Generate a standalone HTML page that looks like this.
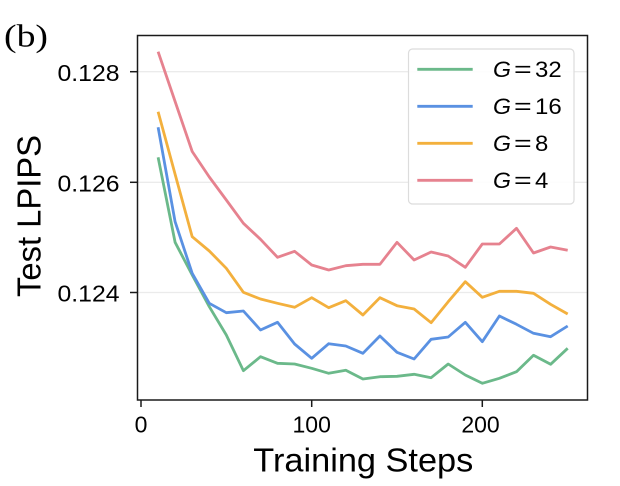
<!DOCTYPE html>
<html>
<head>
<meta charset="utf-8">
<style>
html,body{margin:0;padding:0;background:#fff;}
svg{display:block;}
text{font-family:"Liberation Sans",Arial,sans-serif;fill:#000;}
</style>
</head>
<body>
<svg width="620" height="486" viewBox="0 0 620 486" xmlns="http://www.w3.org/2000/svg">
<rect x="0" y="0" width="620" height="486" fill="#fff"/>
<!-- grid -->
<g stroke="#ebebeb" stroke-width="1.3">
<line x1="137.5" y1="71.7" x2="587.5" y2="71.7"/>
<line x1="137.5" y1="182.3" x2="587.5" y2="182.3"/>
<line x1="137.5" y1="292.5" x2="587.5" y2="292.5"/>
</g>
<!-- series -->
<g fill="none" stroke-width="2.8" stroke-linejoin="round" stroke-linecap="butt">
<polyline stroke="#6bb98a" points="158.1,157.3 175.1,242.3 192.2,275 209.3,306.7 226.3,335 243.4,370.7 260.5,356.7 277.5,363.3 294.6,364 311.7,368.3 328.7,373.3 345.8,370.3 362.9,379 379.9,376.7 397,376.3 414.1,374.3 431.1,377.7 448.2,364 465.3,375 482.3,383.3 499.4,378.3 516.5,371.7 533.5,355.3 550.6,364.3 567.7,348.3"/>
<polyline stroke="#5a91e2" points="158.1,127.3 175.1,221.7 192.2,273.3 209.3,303.3 226.3,312.7 243.4,311 260.5,330 277.5,322.3 294.6,344 311.7,358.3 328.7,343.7 345.8,346 362.9,353.3 379.9,336 397,352.3 414.1,359 431.1,339.3 448.2,337 465.3,322.3 482.3,341.7 499.4,316 516.5,324.3 533.5,333.3 550.6,336.7 567.7,326"/>
<polyline stroke="#f3b03d" points="158.1,111.7 175.1,174.2 192.2,236.7 209.3,251 226.3,268.3 243.4,292.3 260.5,299 277.5,303.3 294.6,307.3 311.7,297.7 328.7,307.7 345.8,300.7 362.9,315 379.9,297.7 397,305.7 414.1,309 431.1,322.7 448.2,301.7 465.3,281.7 482.3,297.3 499.4,291.3 516.5,291.3 533.5,293.3 550.6,304.3 567.7,314"/>
<polyline stroke="#e6828f" points="158.1,51.7 175.1,101.5 192.2,151.5 209.3,177 226.3,200 243.4,223.3 260.5,239.3 277.5,257.3 294.6,251.3 311.7,265 328.7,270 345.8,265.7 362.9,264.3 379.9,264.3 397,242.3 414.1,260 431.1,252 448.2,256 465.3,267.3 482.3,244 499.4,244 516.5,228.3 533.5,253 550.6,247 567.7,250.3"/>
</g>
<!-- spines -->
<rect x="137.5" y="35.5" width="450" height="364.5" fill="none" stroke="#1a1a1a" stroke-width="1.5"/>
<!-- ticks -->
<g stroke="#1a1a1a" stroke-width="1.5">
<line x1="130" y1="71.7" x2="137.5" y2="71.7"/>
<line x1="130" y1="182.3" x2="137.5" y2="182.3"/>
<line x1="130" y1="292.5" x2="137.5" y2="292.5"/>
<line x1="141" y1="400" x2="141" y2="407"/>
<line x1="311.7" y1="400" x2="311.7" y2="407"/>
<line x1="482.3" y1="400" x2="482.3" y2="407"/>
</g>
<!-- tick labels -->
<g font-size="23">
<text x="57.5" y="81" textLength="62" lengthAdjust="spacingAndGlyphs">0.128</text>
<text x="57.5" y="191.5" textLength="62" lengthAdjust="spacingAndGlyphs">0.126</text>
<text x="57.5" y="301.5" textLength="62" lengthAdjust="spacingAndGlyphs">0.124</text>
<text x="141" y="432.3" text-anchor="middle">0</text>
<text x="311.7" y="432.3" text-anchor="middle">100</text>
<text x="480.5" y="432.3" text-anchor="middle">200</text>
</g>
<!-- axis labels -->
<text x="253.3" y="471.7" font-size="33" textLength="220" lengthAdjust="spacingAndGlyphs">Training Steps</text>
<text transform="translate(40.7,216) rotate(-90)" x="-81" y="0" font-size="33" textLength="162" lengthAdjust="spacingAndGlyphs">Test LPIPS</text>
<!-- (b) -->
<text x="4" y="46.5" font-size="32" style="font-family:'Liberation Serif','Times New Roman',serif" textLength="44" lengthAdjust="spacingAndGlyphs">(b)</text>
<!-- legend -->
<rect x="408.5" y="49" width="165.5" height="155" rx="4" ry="4" fill="#fff" fill-opacity="0.9" stroke="#dcdcdc" stroke-width="1.2"/>
<g stroke-width="2.8">
<line x1="417.3" y1="69.3" x2="472.7" y2="69.3" stroke="#6bb98a"/>
<line x1="417.3" y1="106.3" x2="472.7" y2="106.3" stroke="#5a91e2"/>
<line x1="417.3" y1="143.3" x2="472.7" y2="143.3" stroke="#f3b03d"/>
<line x1="417.3" y1="180.3" x2="472.7" y2="180.3" stroke="#e6828f"/>
</g>
<g font-size="22" style="font-family:'DejaVu Sans','Liberation Sans',sans-serif">
<text x="493" y="77" font-style="italic" textLength="18" lengthAdjust="spacingAndGlyphs">G</text>
<text x="514" y="77" textLength="17.7" lengthAdjust="spacingAndGlyphs">=</text>
<text x="535" y="77" textLength="26.7" lengthAdjust="spacingAndGlyphs">32</text>
<text x="493" y="114" font-style="italic" textLength="18" lengthAdjust="spacingAndGlyphs">G</text>
<text x="514" y="114" textLength="17.7" lengthAdjust="spacingAndGlyphs">=</text>
<text x="535" y="114" textLength="26.7" lengthAdjust="spacingAndGlyphs">16</text>
<text x="493" y="151" font-style="italic" textLength="18" lengthAdjust="spacingAndGlyphs">G</text>
<text x="514" y="151" textLength="17.7" lengthAdjust="spacingAndGlyphs">=</text>
<text x="535" y="151" textLength="13.3" lengthAdjust="spacingAndGlyphs">8</text>
<text x="493" y="188" font-style="italic" textLength="18" lengthAdjust="spacingAndGlyphs">G</text>
<text x="514" y="188" textLength="17.7" lengthAdjust="spacingAndGlyphs">=</text>
<text x="535" y="188" textLength="13.3" lengthAdjust="spacingAndGlyphs">4</text>
</g>
</svg>
</body>
</html>
